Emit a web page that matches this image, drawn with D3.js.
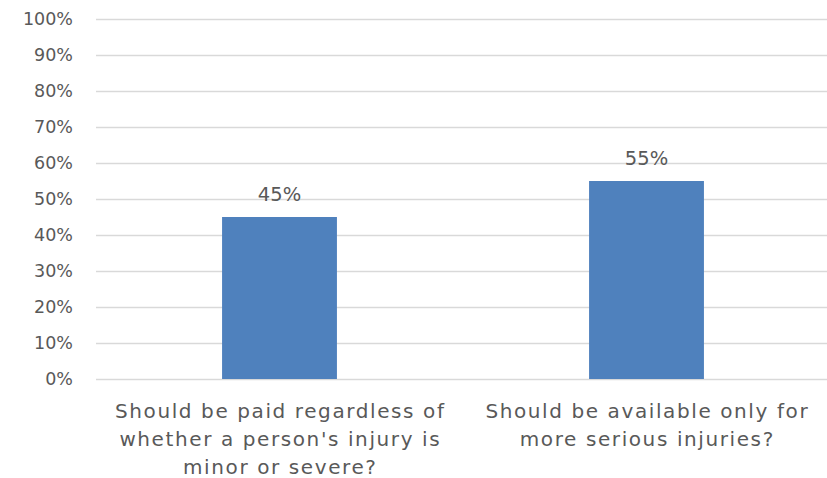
<!DOCTYPE html>
<html>
<head>
<meta charset="utf-8">
<script src="https://cdn.jsdelivr.net/npm/d3@7.9.0/dist/d3.min.js"></script>
<style>
  body { margin: 0; background: #fff; }
  svg text { font-family: 'DejaVu Sans', sans-serif; fill: #595959; }
</style>
</head>
<body>
<svg id="chart" width="827" height="478"></svg>
<script>
const categories = [
  ['Should be paid regardless of', "whether a person's injury is", 'minor or severe?'],
  ['Should be available only for', 'more serious injuries?']
];
const values = [0.45, 0.55];
const yTicks = [0, 0.1, 0.2, 0.3, 0.4, 0.5, 0.6, 0.7, 0.8, 0.9, 1];

const svg = d3.select('#chart');
const plotLeft = 96, plotRight = 830, plotTop = 19, plotBottom = 379;

const x = d3.scaleBand()
  .domain(d3.range(values.length))
  .range([plotLeft, plotRight])
  .paddingInner(0.687)
  .paddingOuter(0.3435);

const y = d3.scaleLinear().domain([0, 1]).range([plotBottom, plotTop]);
const pct = d3.format('.0%');

// gridlines
svg.append('g')
  .selectAll('line')
  .data(yTicks)
  .enter()
  .append('line')
  .attr('x1', plotLeft)
  .attr('x2', plotRight)
  .attr('y1', (d) => Math.round(y(d)) + 0.5)
  .attr('y2', (d) => Math.round(y(d)) + 0.5)
  .attr('stroke', '#d9d9d9')
  .attr('stroke-width', 1.5);

// y tick labels
svg.append('g')
  .selectAll('text')
  .data(yTicks)
  .enter()
  .append('text')
  .attr('x', 73)
  .attr('y', (d) => y(d))
  .attr('dy', '0.36em')
  .attr('text-anchor', 'end')
  .style('font-size', '17.5px')
  .text(pct);

// bars
svg.append('g')
  .selectAll('rect')
  .data(values)
  .enter()
  .append('rect')
  .attr('x', (d, i) => x(i))
  .attr('width', x.bandwidth())
  .attr('y', (d) => y(d))
  .attr('height', (d) => y(0) - y(d))
  .attr('fill', '#4f81bd');

// value labels
svg.append('g')
  .selectAll('text')
  .data(values)
  .enter()
  .append('text')
  .attr('x', (d, i) => x(i) + x.bandwidth() / 2)
  .attr('y', (d) => y(d) - 16.5)
  .attr('text-anchor', 'middle')
  .style('font-size', '19.5px')
  .text(pct);

// category labels
const cat = svg.append('g')
  .selectAll('text')
  .data(categories)
  .enter()
  .append('text')
  .attr('text-anchor', 'middle')
  .style('font-size', '20px')
  .style('letter-spacing', '1.6px');

cat.selectAll('tspan')
  .data((d, i) => d.map((line) => ({ line, i })))
  .enter()
  .append('tspan')
  .attr('x', (d) => x(d.i) + x.bandwidth() / 2 + 0.8)
  .attr('y', (d, j) => 418 + j * 28)
  .text((d) => d.line);
</script>
</body>
</html>
